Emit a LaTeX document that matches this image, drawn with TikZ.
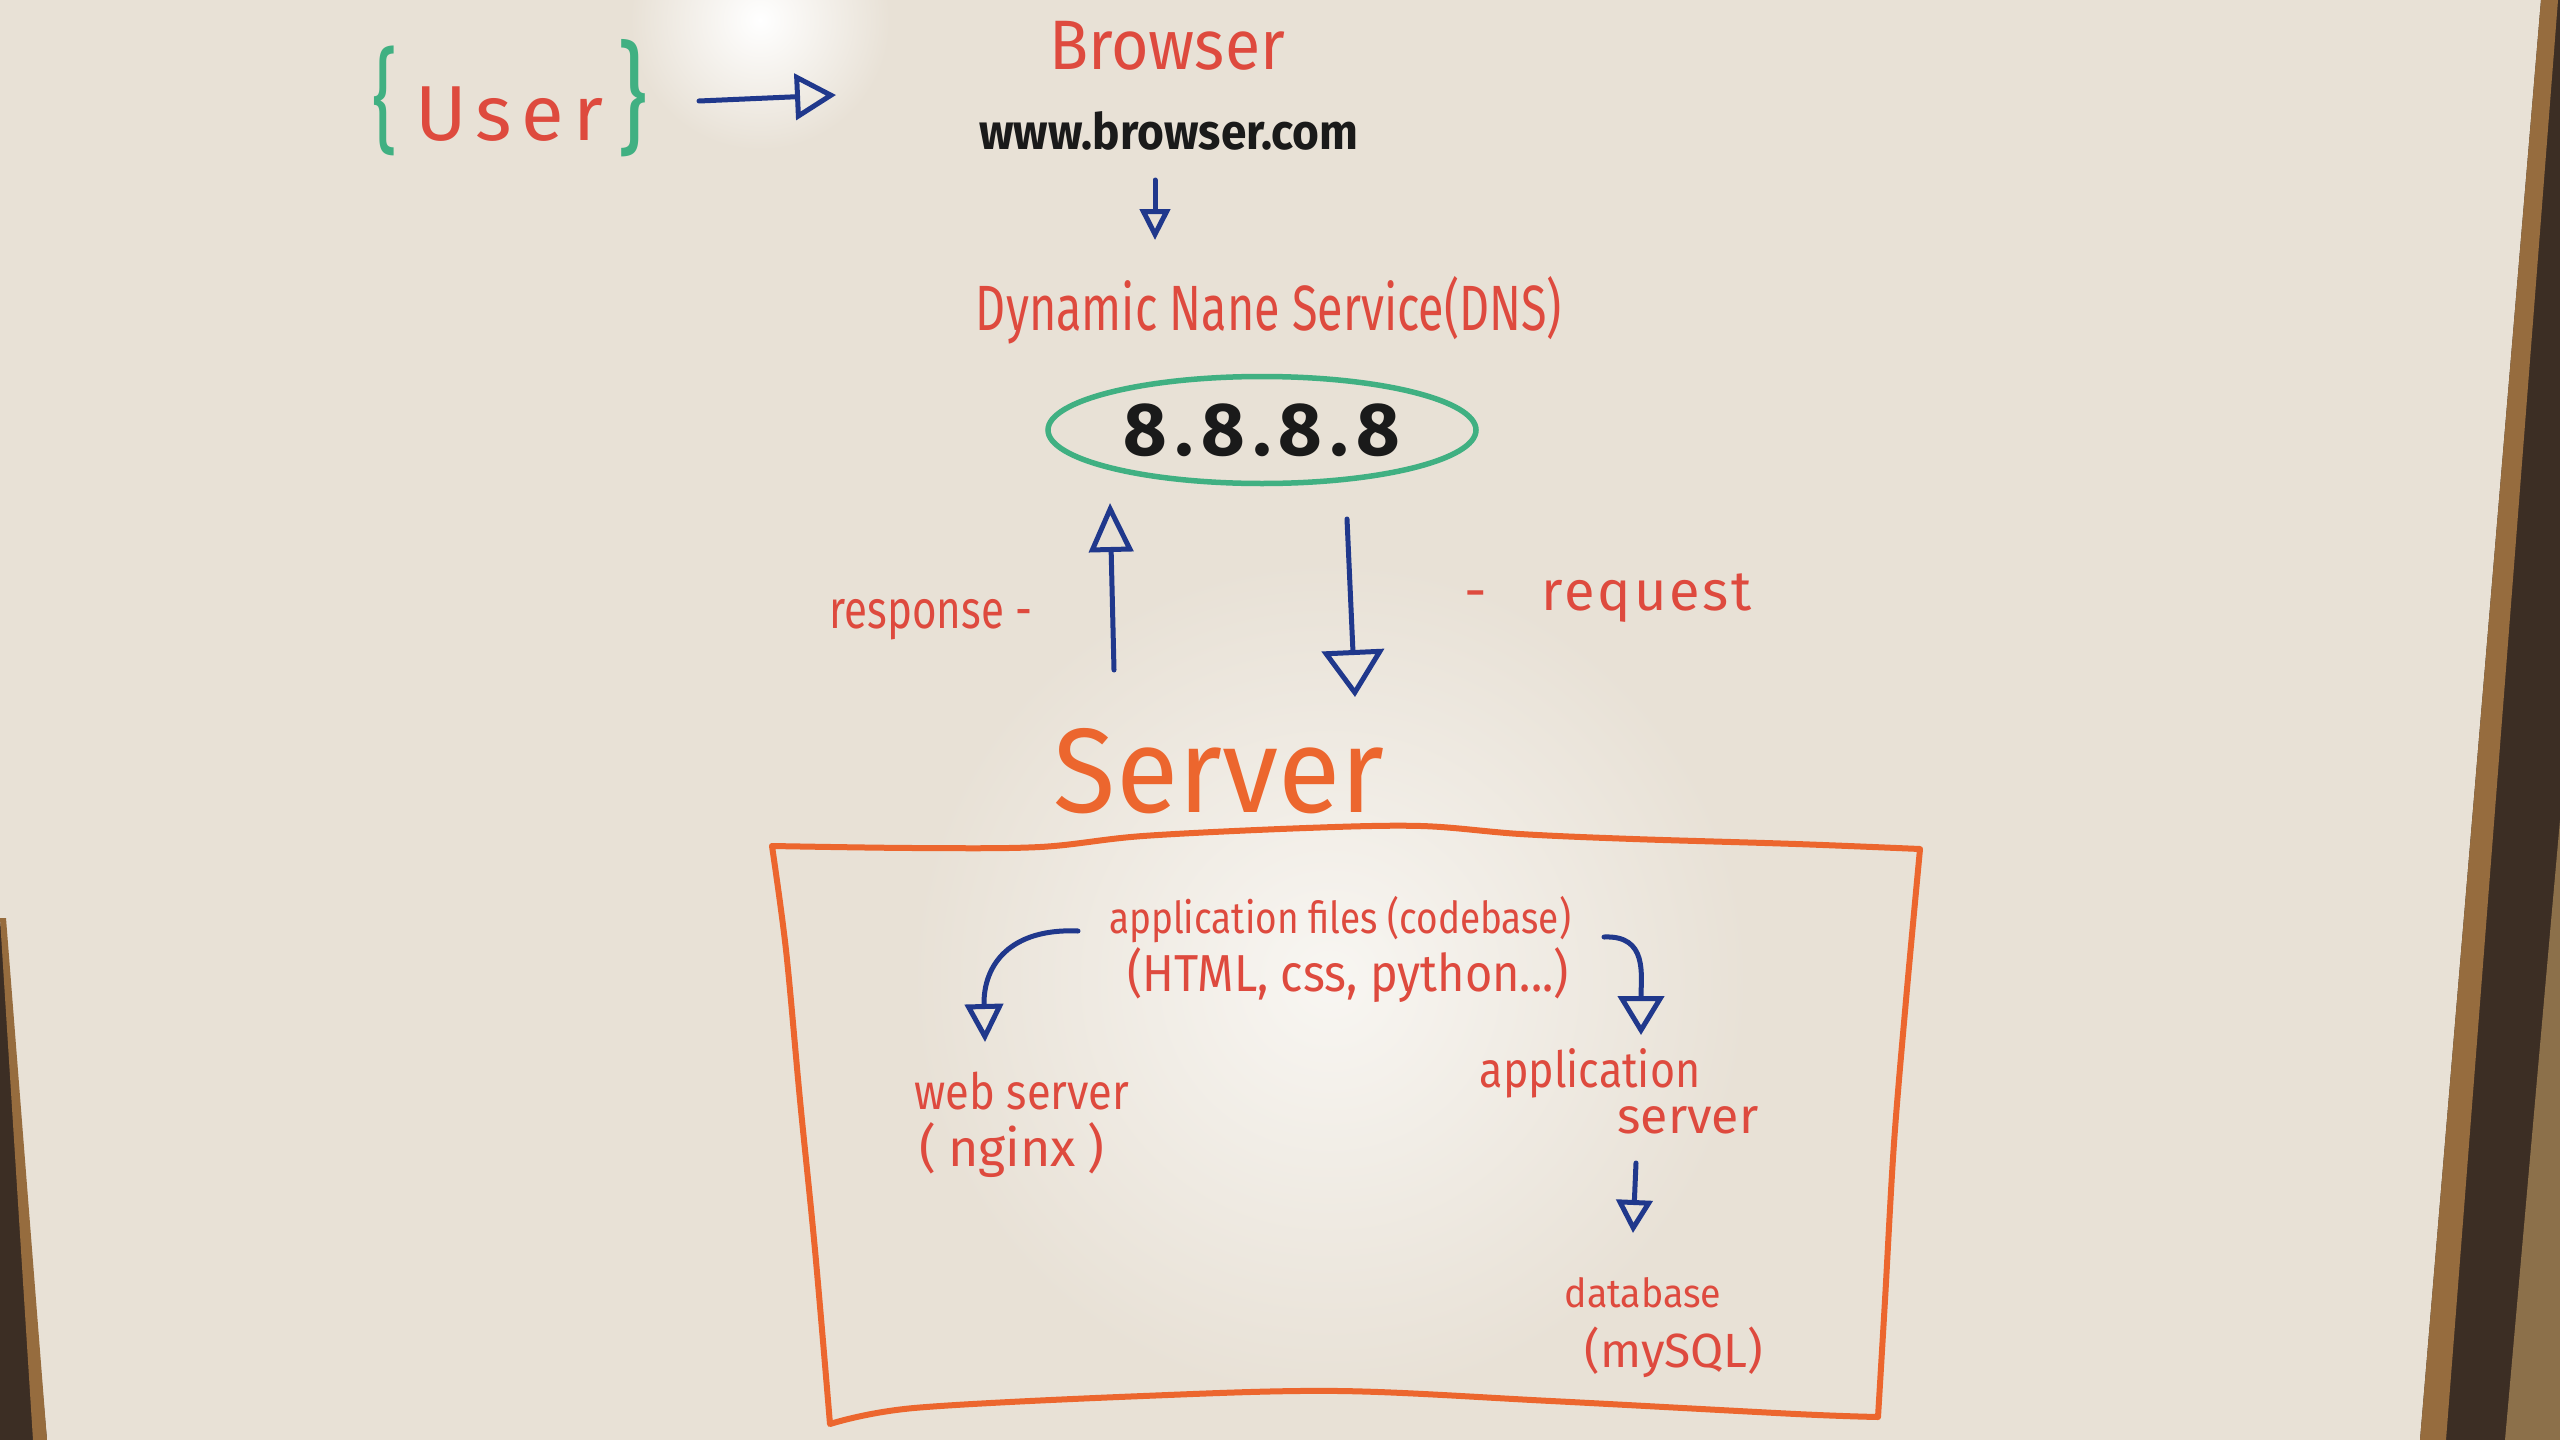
\documentclass[tikz,border=0pt]{standalone}
\usepackage{fontspec}
\setmainfont{Fira Sans}
\usetikzlibrary{arrows.meta,shapes.geometric}
\definecolor{board}{RGB}{232,225,214}
\definecolor{glare}{RGB}{248,246,242}
\definecolor{mred}{RGB}{222,74,62}
\definecolor{morange}{RGB}{236,102,46}
\definecolor{mblue}{RGB}{32,56,140}
\definecolor{mgreen}{RGB}{64,176,130}
\definecolor{mblack}{RGB}{26,26,26}
\definecolor{woodlight}{RGB}{150,108,62}
\definecolor{wooddark}{RGB}{60,46,36}
\definecolor{walltan}{RGB}{140,112,74}
\newcommand\tx[3]{\scalebox{#1}[1]{\fontsize{#2}{#2}\selectfont #3}}
\begin{document}
\begin{tikzpicture}[x=1pt,y=-1pt,
  lbl/.style={inner sep=0pt, text=mred},
  blk/.style={inner sep=0pt, text=mblack},
  marker/.style={draw=mblue, line width=5pt, line cap=round, line join=round},
  tipo/.style 2 args={-{Triangle[open,length=#1,width=#2,line width=5pt]}},
  boxline/.style={draw=morange, line width=6pt, line cap=round, line join=round}
 ]
\useasboundingbox (0,0) rectangle (2560,1440);
% board
\fill[board] (0,0) rectangle (2560,1440);
\shade[inner color=glare, outer color=board] (1330,980) circle (420);
\shade[inner color=white, outer color=board] (760,20) circle (130);
% frame right
\fill[wooddark] (2541,0) -- (2560,0) -- (2560,1440) -- (2420,1440) -- cycle;
\fill[woodlight] (2541,0) -- (2558,0) -- (2446,1440) -- (2420,1440) -- cycle;
\fill[walltan] (2560,820) -- (2560,1440) -- (2505,1440) -- cycle;
% frame left
\fill[wooddark] (0,918) -- (47,1440) -- (0,1440) -- cycle;
\fill[woodlight] (0,918) -- (6,918) -- (47,1440) -- (33,1440) -- cycle;

% texts
\node[lbl] (user) at (510,98) {\tx{1}{78}{\textcolor{mgreen}{\scalebox{1}[1.45]{\{}}\kern18pt\addfontfeatures{LetterSpace=12}User\kern14pt\textcolor{mgreen}{\scalebox{1.2}[1.55]{\}}}}};
\node[lbl] (browser) at (1167,46) {\tx{0.92}{70}{Browser}};
\node[blk] (www) at (1169,131) {\tx{0.92}{50}{\bfseries www.browser.com}};
\node[lbl] (dns) at (1269,310) {\tx{0.73}{64}{Dynamic Nane Service(DNS)}};
\node[draw=mgreen, line width=5.5pt, ellipse, minimum width=428pt, minimum height=107pt, inner sep=0pt, text=mblack] (ip) at (1262,430)
  {\tx{1}{75}{\bfseries 8\kern8pt.\kern8pt8\kern8pt.\kern8pt8\kern8pt.\kern8pt8}};
\node[lbl] (resp) at (931,620) {\tx{0.78}{54}{response -}};
\node[lbl] (req) at (1608,598) {\tx{1}{56}{-\kern55pt\addfontfeatures{LetterSpace=5}request}};
\node[inner sep=0pt, text=morange] (server) at (1219,771) {\tx{0.95}{120}{Server}};
\node[lbl] (files) at (1340,920) {\tx{0.84}{44}{application files (codebase)}};
\node[lbl] (langs) at (1348,975) {\tx{0.9}{52}{(HTML, css, python...)}};
\node[lbl] (web) at (1022,1091) {\tx{0.87}{50}{web server}};
\node[lbl] (nginx) at (1012,1150) {\tx{1}{52}{(\kern12pt nginx\kern12pt)}};
\node[lbl] (app) at (1590,1073) {\tx{0.86}{50}{application}};
\node[lbl] (appsrv) at (1688,1120) {\tx{1}{50}{server}};
\node[lbl] (db) at (1643,1293) {\tx{0.94}{40}{database}};
\node[lbl] (mysql) at (1674,1352) {\tx{1}{48}{(mySQL)}};

% server box
\draw[boxline] plot[smooth,tension=0.55] coordinates {(772,846) (914,848) (1040,847) (1143,836) (1306,828) (1421,826) (1520,834) (1633,839) (1796,844) (1920,849)}
  -- plot[smooth,tension=0.55] coordinates {(1920,849) (1906,1000) (1894,1143) (1885,1300) (1878,1417)}
  -- plot[smooth,tension=0.55] coordinates {(1878,1417) (1796,1414) (1551,1401) (1339,1391) (1143,1396) (914,1408) (830,1424)}
  -- plot[smooth,tension=0.55] coordinates {(830,1424) (815,1250) (800,1100) (786,950) (772,846)};

% arrow end points
\coordinate (ua) at (699,101);
\coordinate (ub) at (836,95);
\coordinate (wa) at (1155,180);
\coordinate (wb) at (1155,240);
\coordinate (ra) at (1114,670);
\coordinate (rb) at (1110,503);
\coordinate (qa) at (1347,519);
\coordinate (qb) at (1355,697);
\coordinate (la) at (1078,931);
\coordinate (lb) at (985,1042);
\coordinate (pa) at (1604,937);
\coordinate (pb) at (1641,1035);
\coordinate (da) at (1636,1163);
\coordinate (dbb) at (1633,1233);

\draw[marker, tipo={41pt}{46pt}] (ua) -- (ub);
\draw[marker, tipo={31pt}{30pt}] (wa) -- (wb);
\draw[marker, tipo={49pt}{44pt}] (ra) -- (rb);
\draw[marker, tipo={47pt}{62pt}] (qa) -- (qb);
\draw[marker, tipo={38pt}{38pt}] (la) .. controls (1010,928) and (983,965) .. (lb);
\draw[marker, tipo={39pt}{46pt}] (pa) .. controls (1648,935) and (1641,975) .. (pb);
\draw[marker, tipo={33pt}{36pt}] (da) -- (dbb);
\end{tikzpicture}
\end{document}
